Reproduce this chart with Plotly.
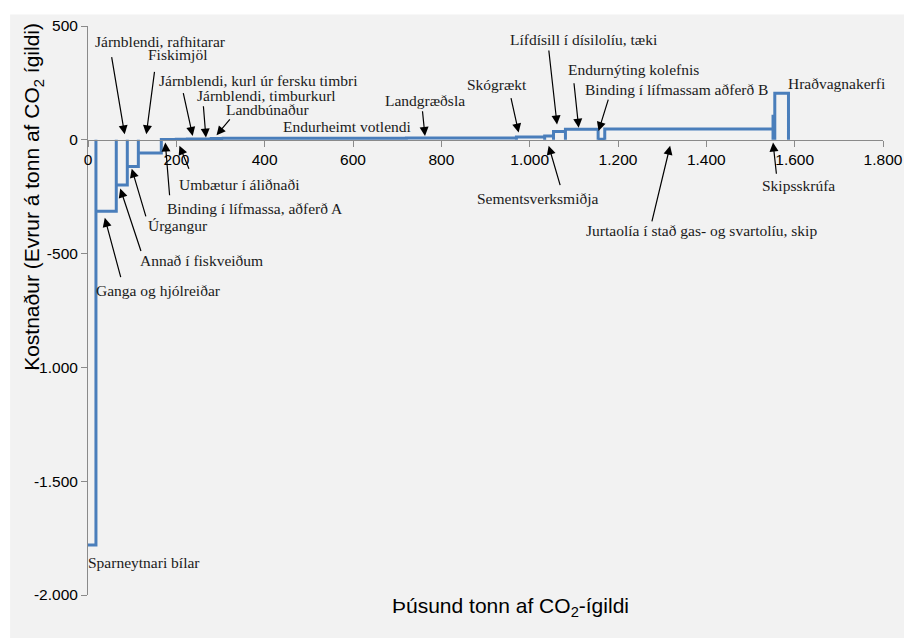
import plotly.graph_objects as go

# ---- data: marginal abatement cost blocks ----
measures = [
    "Sparneytnari bílar", "Ganga og hjólreiðar", "Annað í fiskveiðum", "Úrgangur",
    "Fiskimjöl", "Binding í lífmassa, aðferð A", "Umbætur í áliðnaði",
    "Járnblendi, kurl úr fersku timbri", "Járnblendi, timburkurl", "Landbúnaður",
    "Endurheimt votlendi", "Landgræðsla", "Skógrækt", "Sementsverksmiðja",
    "Lífdísill í dísilolíu, tæki", "Endurnýting kolefnis", "Binding í lífmassam aðferð B",
    "Jurtaolía í stað gas- og svartolíu, skip", "Skipsskrúfa", "Hraðvagnakerfi",
]
widths = [18, 46, 25, 25, 52, 34, 25, 43, 11, 27, 415, 249, 64, 20, 27, 74, 15, 381, 4, 31]
costs = [-1780, -314, -199, -117, -58, 1, 2, 3, 4, 6, 7, 8, 12, 17, 37, 46, 2, 47, 104, 205]

x_ticks = [0, 200, 400, 600, 800, 1000, 1200, 1400, 1600, 1800]
x_tick_labels = ["0", "200", "400", "600", "800", "1.000", "1.200", "1.400", "1.600", "1.800"]
y_ticks = [-2000, -1500, -1000, -500, 0, 500]
y_tick_labels = ["-2.000", "-1.500", "-1.000", "-500", "0", "500"]

# label texts with their positions (data units)
labels = [
    ("Járnblendi, rafhitarar", 164, 434),
    ("Fiskimjöl", 203, 374),
    ("Járnblendi, kurl úr fersku timbri", 385, 261),
    ("Járnblendi, timburkurl", 405, 196),
    ("Landbúnaður", 406, 135),
    ("Endurheimt votlendi", 587, 58),
    ("Landgræðsla", 763, 174),
    ("Skógrækt", 926, 244),
    ("Lífdísill í dísilolíu, tæki", 1122, 442),
    ("Endurnýting kolefnis", 1235, 311),
    ("Binding í lífmassam aðferð B", 1332, 222),
    ("Hraðvagnakerfi", 1696, 249),
    ("Skipsskrúfa", 1608, -202),
    ("Jurtaolía í stað gas- og svartolíu, skip", 1390, -397),
    ("Sementsverksmiðja", 1018, -258),
    ("Umbætur í áliðnaði", 344, -198),
    ("Binding í lífmassa, aðferð A", 377, -301),
    ("Úrgangur", 203, -375),
    ("Annað í fiskveiðum", 256, -531),
    ("Ganga og hjólreiðar", 159, -661),
    ("Sparneytnari bílar", 126, -1858),
]
# arrows: (tail x, tail y, head x, head y) in data units
arrows = [
    (53, 370, 83, 24),
    (151, 305, 132, 24),
    (215, 212, 237, 17),
    (261, 154, 267, 10),
    (324, 96, 291, 20),
    (757, 132, 763, 17),
    (957, 190, 975, 32),
    (1043, 399, 1062, 67),
    (1100, 255, 1111, 53),
    (1179, 183, 1156, 39),
    (1559, -156, 1551, -12),
    (1276, -365, 1318, -26),
    (1070, -206, 1043, -26),
    (230, -134, 207, -26),
    (185, -250, 175, -12),
    (132, -343, 99, -127),
    (121, -495, 73, -214),
    (75, -610, 38, -343),
]

# ---- build step outline: each block drawn from 0 to its cost ----
xs, ys = [], []
start = 0
for i, (w, c) in enumerate(zip(widths, costs)):
    end = start + w
    if i > 0:
        xs.append(start); ys.append(0)
    xs += [start, end, end]
    ys += [c, c, 0]
    start = end

fig = go.Figure()
fig.add_trace(go.Scatter(x=xs, y=ys, mode="lines",
                         line=dict(color="#4a7ebb", width=3),
                         hoverinfo="skip", showlegend=False))

serif = dict(family="Liberation Serif", size=15.5, color="#1a1a1a")
sans = "Liberation Sans"
annotations = []
for t, x, y in labels:
    annotations.append(dict(x=x, y=y, xref="x", yref="y", text=t, showarrow=False,
                            font=serif, xanchor="center", yanchor="middle"))
for tx, ty, hx, hy in arrows:
    annotations.append(dict(x=hx, y=hy, ax=tx, ay=ty, xref="x", yref="y",
                            axref="x", ayref="y", text="", showarrow=True,
                            arrowhead=2, arrowsize=1.5, arrowwidth=1.2,
                            arrowcolor="#000000", standoff=0))
annotations.append(dict(x=0.531, y=-0.021, xref="paper", yref="paper",
                        text="Þúsund tonn af CO<sub>2</sub>-ígildi", showarrow=False,
                        font=dict(family=sans, size=21, color="#000"),
                        xanchor="center", yanchor="middle"))
annotations.append(dict(x=-0.069, y=0.70, xref="paper", yref="paper",
                        text="Kostnaður (Evrur á tonn af CO<sub>2</sub> ígildi)",
                        showarrow=False, textangle=-90,
                        font=dict(family=sans, size=21, color="#000"),
                        xanchor="center", yanchor="middle"))

axis_common = dict(showline=True, linecolor="#8a8a8a", linewidth=1, ticks="outside",
                   ticklen=6, tickcolor="#8a8a8a", showgrid=False, zeroline=False,
                   tickfont=dict(family=sans, size=15.5, color="#000"))

# the page adds an 8px body margin, so the figure is 8px smaller and shifted
fig.update_layout(
    width=904, height=630,
    margin=dict(l=80, r=27, t=9, b=43),
    paper_bgcolor="#ffffff", plot_bgcolor="#f2f2f2",
    xaxis=dict(range=[0, 1800], tickvals=x_ticks, ticktext=x_tick_labels,
               anchor="free", position=0.8, **axis_common),
    yaxis=dict(range=[-2000, 500], tickvals=y_ticks, ticktext=y_tick_labels,
               **axis_common),
    annotations=annotations,
    shapes=[dict(type="rect", xref="paper", yref="paper", x0=-0.098, x1=1.04,
                 y0=-0.08, y1=1.02, fillcolor="#f2f2f2", line=dict(width=0),
                 layer="below")],
)

fig.write_html("out.html")
